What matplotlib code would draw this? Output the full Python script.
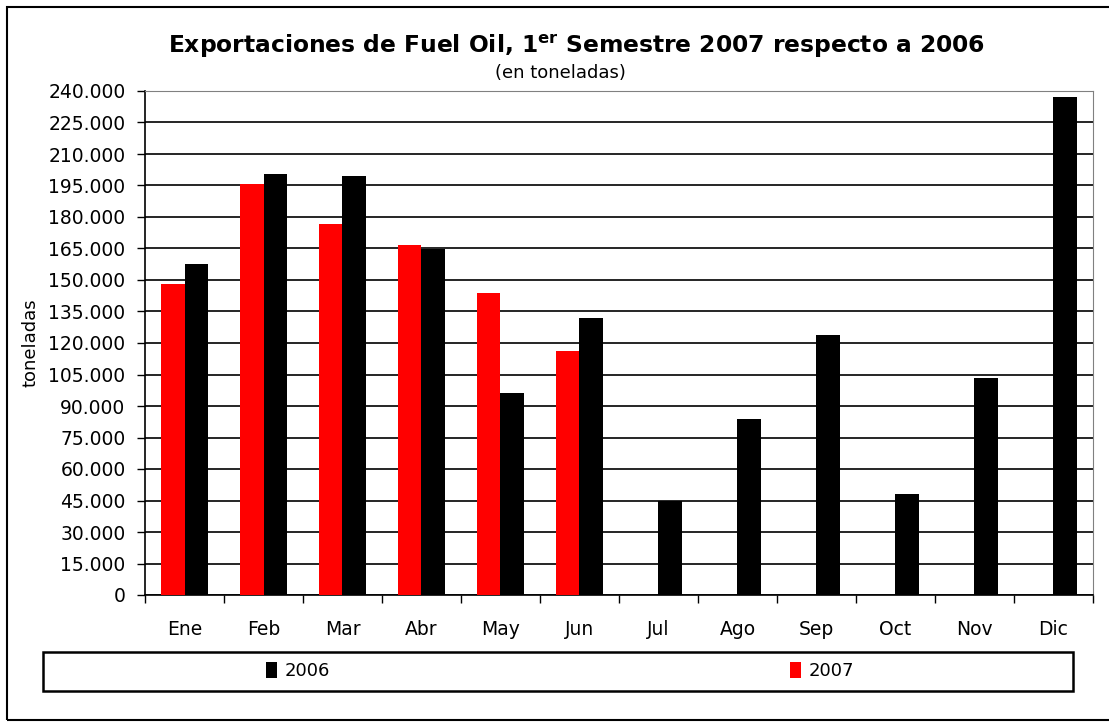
import matplotlib.pyplot as plt
from matplotlib.patches import Rectangle
from matplotlib.ticker import FuncFormatter

meses = ['Ene', 'Feb', 'Mar', 'Abr', 'May', 'Jun', 'Jul', 'Ago', 'Sep', 'Oct', 'Nov', 'Dic']
t2006 = [157800, 200400, 199500, 164700, 96400, 132100, 44700, 83600, 124000, 47900, 103200, 237000]
t2007 = [148000, 195500, 176600, 166700, 144000, 116100]

W, H = 1109, 722
plt.rcParams['font.family'] = ['DejaVu Sans']
fig = plt.figure(figsize=(W / 100, H / 100), dpi=100)
fig.patch.set_facecolor('white')

# marco exterior del grafico (el borde derecho queda fuera de la imagen)
fig.patches.append(Rectangle((7 / W, 1 - 720 / H), (1130 - 7) / W, (720 - 7) / H,
                             transform=fig.transFigure, fill=False, edgecolor='black', lw=1.5))

ax = fig.add_axes([145 / W, 1 - 595 / H, (1093 - 145) / W, (595 - 91) / H])
w = 0.3
x = list(range(len(meses)))
ax.bar([i - w / 2 for i in range(len(t2007))], t2007, width=w, color='#ff0000', label='2007', zorder=3)
ax.bar([i + w / 2 for i in x], t2006, width=w, color='black', label='2006', zorder=3)

ax.set_xlim(-0.5, 11.5)
ax.set_ylim(0, 240000)
ax.set_yticks(range(0, 240001, 15000))
ax.yaxis.set_major_formatter(FuncFormatter(lambda v, p: f'{int(v):,}'.replace(',', '.')))
ax.grid(axis='y', color='black', lw=1.2, zorder=1)
ax.tick_params(axis='y', direction='out', length=6, width=1, labelsize=13.5, pad=8)

ax.set_xticks([i - 0.5 for i in range(13)])
ax.set_xticklabels([])
ax.tick_params(axis='x', which='major', direction='out', length=6, width=1)
ax.set_xticks(x, minor=True)
ax.set_xticklabels(meses, minor=True, fontsize=13.5)
ax.tick_params(axis='x', which='minor', length=0, pad=18)

for s in ['top', 'right']:
    ax.spines[s].set_color('#808080')
for s in ['left', 'bottom']:
    ax.spines[s].set_linewidth(1.2)

fig.text(31 / W, 1 - 343 / H, 'toneladas', rotation=90, ha='center', va='center', fontsize=13)

fig.text(577 / W, 1 - 46 / H, r'Exportaciones de Fuel Oil, 1$^{\mathbf{er}}$ Semestre 2007 respecto a 2006',
         ha='center', va='center', fontsize=16.8, fontweight='bold')
fig.text(560 / W, 1 - 73 / H, '(en toneladas)', ha='center', va='center', fontsize=13)

# leyenda
fig.patches.append(Rectangle((43 / W, 1 - 691 / H), (1073 - 43) / W, (691 - 652) / H,
                             transform=fig.transFigure, fill=False, edgecolor='black', lw=1.8))
h, l = ax.get_legend_handles_labels()
fig.legend(h[::-1], l[::-1], loc='center', bbox_to_anchor=(560 / W, 1 - 671 / H), ncol=2,
           frameon=False, fontsize=13, handlelength=0.6, handleheight=1.0, handletextpad=0.4,
           columnspacing=25.5)

fig.savefig('out.png', dpi=100)
